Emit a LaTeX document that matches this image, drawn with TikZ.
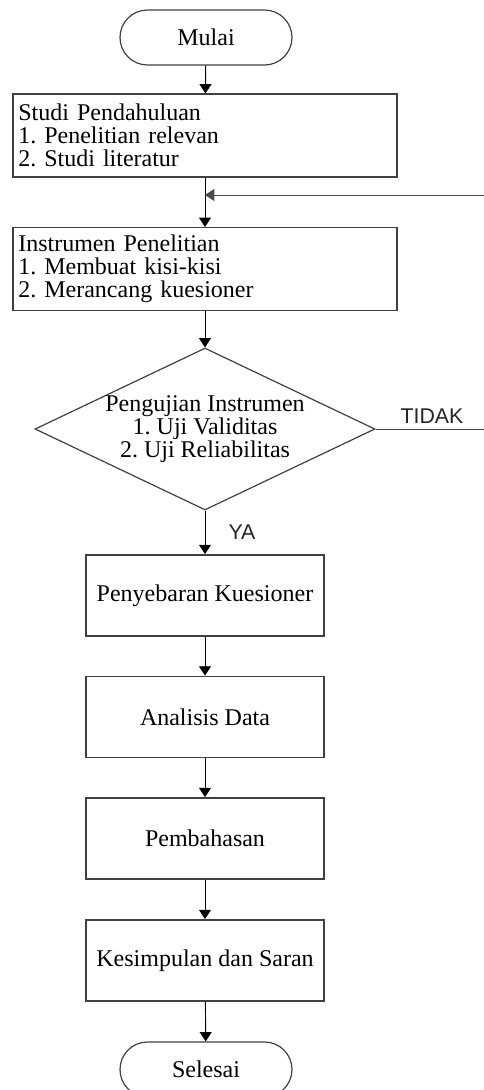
\documentclass[tikz,border=0pt]{standalone}
\usepackage{fontspec}
\setmainfont{Liberation Serif}
\newfontfamily\arialfont{Liberation Sans}
\usetikzlibrary{arrows.meta, shapes.geometric, shapes.misc}
\frenchspacing

\begin{document}
\begin{tikzpicture}[x=0.75pt, y=-0.75pt,
  every node/.style={font=\fontsize{18}{17.25}\selectfont},
  terminal/.style={draw=black!75, line width=0.9pt, rounded rectangle, minimum width=129pt, minimum height=41.25pt, inner sep=0pt},
  listbox/.style={draw=black!75, line width=1.1pt, rectangle, minimum width=288pt, minimum height=62pt, text width=280pt, align=left, inner xsep=4pt},
  process/.style={draw=black!75, line width=1.1pt, rectangle, minimum width=178.5pt, minimum height=61pt},
  decision/.style={draw=black!75, line width=0.9pt, diamond, minimum width=255pt, minimum height=121.5pt, inner sep=0pt},
  flow/.style={-{Triangle[length=7pt,width=9pt]}, line width=0.7pt},
  loopline/.style={draw=black!70, line width=1.2pt},
  answer/.style={font=\arialfont\fontsize{16}{16}\selectfont, text=black!85}
]
\useasboundingbox (0,0) rectangle (483,1090);
% steps
\node[terminal] (mulai) at (206,37.5) {Mulai};
\node[listbox] (studi) at (205,135.5) {Studi Pendahuluan\\1. Penelitian relevan\\2. Studi literatur};
\node[listbox] (instrumen) at (205,269) {Instrumen Penelitian\\1. Membuat kisi-kisi\\2. Merancang kuesioner};
\node[decision, label={[align=center]center:{Pengujian Instrumen\\1. Uji Validitas\\2. Uji Reliabilitas}}] (uji) at (205,429) {};
\node[process] (sebar) at (205,595.5) {Penyebaran Kuesioner};
\node[process] (analisis) at (205,717) {Analisis Data};
\node[process] (bahas) at (205,838.5) {Pembahasan};
\node[process] (simpulan) at (205,960.5) {Kesimpulan dan Saran};
\node[terminal] (selesai) at (206,1069.5) {Selesai};
% answers
\node[answer] (tidak) at (432,416) {TIDAK};
\node[answer] (ya) at (242,532) {YA};
% loop back
\coordinate (join) at (205,195);
\coordinate (turn) at (490,429);
% arrows
\draw[flow] (mulai) -- (studi);
\draw[flow] (studi) -- (instrumen);
\draw[flow] (instrumen) -- (uji);
\draw[flow] (uji) -- (sebar);
\draw[flow] (sebar) -- (analisis);
\draw[flow] (analisis) -- (bahas);
\draw[flow] (bahas) -- (simpulan);
\draw[flow] (simpulan) -- (selesai);
\draw[loopline, flow] (uji.east) -- (turn) |- (join);
\end{tikzpicture}
\end{document}
